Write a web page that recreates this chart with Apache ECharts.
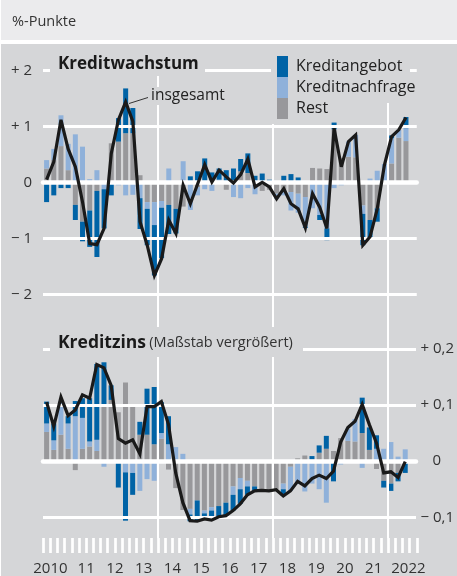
<!DOCTYPE html>
<html><head><meta charset="utf-8">
<script src="https://cdn.jsdelivr.net/npm/echarts@6/dist/echarts.min.js"></script>
<style>html,body{margin:0;padding:0;background:#fff}#c{width:457px;height:576px}</style>
</head><body><div id="c"></div>
<script>
// ---------- data ----------
const years = ['2010','2011','2012','2013','2014','2015','2016','2017','2018','2019','2020','2021','2022'];
const yearLabels = ['2010','11','12','13','14','15','16','17','18','19','20','21','2022'];
const quarters = [];
years.forEach(y => ['Q1','Q2','Q3','Q4'].forEach(q => quarters.push(y + q)));

// Kreditwachstum (%-Punkte)
const angebotTop = [-0.35,-0.23,-0.10,-0.10,-0.27,-0.35,-0.65,-1.18,-0.70,-0.23,
  0.42,0.80,0.45,-0.55,-0.65,-0.90,-0.90,-0.52,-0.44,0,
  0.11,0.20,0.43,0.18,0.20,0.22,0.25,0.22,0.35,0.12,
  0.16,0.05,0,0.12,0.15,0.09,-0.02,0,-0.09,-0.21,
  0.12,0,0,0,-0.56,-0.35,-0.24,0,0.05,0,0.20];
const nachfrageTop = [0.15,0.20,0.55,0.47,0.86,0.64,0.06,0.22,-0.12,0,
  -0.05,-0.23,-0.22,-0.28,-0.12,-0.41,-0.12,0.25,0,0.38,
  -0.49,-0.15,-0.12,-0.15,0.05,0,-0.26,-0.28,-0.10,-0.21,
  0,0,-0.09,-0.08,-0.33,-0.34,-0.53,-0.46,-0.58,-0.82,
  -0.10,-0.05,0.27,0.40,-0.15,0.07,0.21,0.31,0.45,0.14,0.23];
const restTop = [0.25,0.40,0.65,0.22,-0.40,-0.70,-0.50,-0.15,0,0.70,
  0.73,0.88,0.88,0.13,-0.35,-0.35,-0.33,-0.40,-0.47,-0.43,
  0,-0.08,0,0,-0.03,-0.13,0,0.20,0.17,0,
  -0.15,-0.13,-0.20,-0.15,-0.17,-0.20,-0.26,0.26,0.25,0.24,
  0.95,0.44,0.46,0.45,-0.41,-0.67,-0.46,0.02,0.34,0.80,0.74];
const totalTop = [0.05,0.37,1.12,0.60,0.28,-0.35,-1.09,-1.11,-0.82,0.52,
  1.12,1.44,1.09,-0.70,-1.12,-1.66,-1.36,-0.67,-0.91,-0.05,
  -0.38,-0.03,0.32,0.01,0.22,0.10,-0.01,0.14,0.42,-0.08,
  0.00,-0.08,-0.29,-0.11,-0.38,-0.47,-0.81,-0.20,-0.44,-0.82,
  0.97,0.28,0.73,0.85,-1.12,-0.97,-0.47,0.31,0.82,0.94,1.16];

// Kreditzins (%-Punkte, Maßstab vergrößert)
const angebotBot = [0.039,0.030,0,0.013,0.027,0.035,0.077,0.135,0.076,0.026,
  -0.047,-0.086,-0.039,0.023,0.082,0.102,0.055,0.050,0,0,
  -0.012,-0.038,-0.010,-0.013,-0.018,-0.023,-0.028,-0.026,-0.015,-0.010,
  0,0,0,-0.012,0,0,0,0.006,0.013,0.023,
  -0.036,0,0,0,0.063,0.040,0.024,-0.012,-0.013,-0.015,-0.021];
const nachfrageBot = [0.015,0.017,0.060,0.045,0.080,0.055,0.009,0.020,-0.010,0,
  0,-0.020,-0.021,-0.053,-0.032,-0.035,0.010,0.030,0.025,0.013,
  -0.010,0,-0.005,-0.006,0,0,-0.015,-0.020,-0.010,0.002,
  0,0,0,-0.010,-0.043,-0.041,-0.054,-0.040,-0.050,-0.074,
  0,-0.006,0.022,0.040,-0.012,0,0.022,0.022,0.034,0.008,0.021];
const restBot = [0.052,0.020,0.047,0.022,-0.016,0.022,0.026,0.018,0.100,0.109,
  0.087,0.140,0.100,0.047,0.047,0.030,0.040,-0.015,-0.048,-0.087,
  -0.085,-0.070,-0.088,-0.082,-0.080,-0.074,-0.045,-0.030,-0.035,-0.045,
  -0.052,-0.053,-0.050,-0.040,-0.010,0.005,0.010,0.003,0.015,0.022,
  0.018,0.041,0.036,0.035,0.050,0.020,-0.014,-0.035,-0.040,-0.021,0];
const totalBot = [0.105,0.062,0.114,0.081,0.091,0.118,0.112,0.172,0.166,0.135,
  0.040,0.032,0.038,0.013,0.097,0.097,0.106,0.065,-0.021,-0.074,
  -0.106,-0.107,-0.103,-0.105,-0.099,-0.097,-0.088,-0.076,-0.060,-0.053,
  -0.052,-0.053,-0.051,-0.062,-0.053,-0.036,-0.044,-0.031,-0.025,-0.031,
  -0.018,0.034,0.060,0.071,0.101,0.065,0.032,-0.021,-0.019,-0.029,-0.001];

// ---------- styling ----------
const PANEL = '#d5d6d8';
const DARK = '#0063a6', LIGHT = '#8fb1da', GRAY = '#98989b', LINE = '#1a1a1a';
const FONT = '"Open Sans", "Noto Sans", sans-serif';
const L = 43, W = 373.75;

function fmtTop(v) { return v > 0 ? '+ ' + v : (v < 0 ? '\u2212 ' + Math.abs(v) : '0'); }
function fmtBot(v) {
  const r = Math.round(v * 10) / 10;
  if (r === 0) return '{z|0}';
  const s = Math.abs(r).toFixed(1).replace('.', ',');
  return (r > 0 ? '+ ' : '\u2212 ') + s;
}

function bars(name, data, color, xi, stack) {
  return { type: 'bar', name, data, xAxisIndex: xi, yAxisIndex: xi, stack, barWidth: 5,
    itemStyle: { color }, z: 2, clip: false, emphasis: { disabled: true } };
}
function line(data, xi) {
  return { type: 'line', name: 'insgesamt', data, xAxisIndex: xi, yAxisIndex: xi, symbol: 'none',
    lineStyle: { color: LINE, width: 3.2, join: 'miter', miterLimit: 4 }, z: 5, clip: false };
}

const chart = echarts.init(document.getElementById('c'), null, { renderer: 'canvas' });
const option = {
  animation: false,
  backgroundColor: '#ffffff',
  textStyle: { fontFamily: FONT },
  graphic: [
    { type: 'rect', shape: { x: 1, y: 0, width: 456, height: 40 }, style: { fill: '#ebebed' }, z: -10, silent: true },
    { type: 'rect', shape: { x: 1, y: 44, width: 456, height: 532 }, style: { fill: PANEL }, z: -10, silent: true },
    { type: 'text', x: 12, y: 22, style: { text: '%-Punkte', font: '14.5px ' + FONT, fill: '#333', verticalAlign: 'middle' }, z: 10, silent: true },
    // masks breaking grid lines behind texts
    { type: 'rect', shape: { x: 50, y: 50, width: 155, height: 26 }, style: { fill: PANEL }, z: 10, silent: true },
    { type: 'rect', shape: { x: 148, y: 87, width: 80, height: 18 }, style: { fill: PANEL }, z: 10, silent: true },
    { type: 'rect', shape: { x: 271, y: 50, width: 139, height: 53 }, style: { fill: PANEL }, z: 10, silent: true },
    { type: 'rect', shape: { x: 271, y: 103, width: 19, height: 21 }, style: { fill: PANEL }, z: 10, silent: true },
    { type: 'rect', shape: { x: 50, y: 327, width: 253, height: 30 }, style: { fill: PANEL }, z: 10, silent: true },
    // titles
    { type: 'text', x: 58, y: 64, style: { text: 'Kreditwachstum', font: 'bold 17px ' + FONT, fill: '#1a1a1a', verticalAlign: 'middle' }, z: 11, silent: true },
    { type: 'text', x: 151, y: 96, style: { text: 'insgesamt', font: '15.5px ' + FONT, fill: '#222', verticalAlign: 'middle' }, z: 11, silent: true },
    { type: 'line', shape: { x1: 129, y1: 103.5, x2: 148, y2: 97.5 }, style: { stroke: '#333', lineWidth: 1 }, z: 11, silent: true },
    { type: 'text', x: 58, y: 343, style: {
        text: '{b|Kreditzins} {n|(Maßstab vergrößert)}', verticalAlign: 'middle',
        rich: { b: { font: 'bold 17.5px ' + FONT, fill: '#1a1a1a' }, n: { font: '14.5px ' + FONT, fill: '#333' } } },
      z: 11, silent: true }
  ],
  legend: {
    data: ['Kreditangebot', 'Kreditnachfrage', 'Rest'], orient: 'vertical', left: 277, top: 56,
    itemWidth: 11, itemHeight: 21, itemGap: 0, icon: 'rect', selectedMode: false, padding: 0,
    textStyle: { fontSize: 16, color: '#222', fontFamily: FONT, padding: [0, 0, 0, 3] }, z: 12
  },
  grid: [
    { left: L, top: 70.5, width: W, height: 467.5 },
    { left: L, top: 70.5, width: W, height: 224 },
    { left: L, top: 348.8, width: W, height: 168.5 },
    { left: L, top: 538, width: W, height: 15 }
  ],
  xAxis: [
    { type: 'value', gridIndex: 0, min: 0, max: 52, interval: 16, axisLine: { show: false, onZero: false }, axisTick: { show: false },
      axisLabel: { show: false }, splitLine: { show: true, showMinLine: false, showMaxLine: false, lineStyle: { color: '#fff', width: 2 } }, z: 3 },
    { type: 'category', gridIndex: 1, data: quarters, axisLine: { show: true, onZero: true, lineStyle: { color: '#fff', width: 4.5 } },
      axisTick: { show: false }, axisLabel: { show: false }, splitLine: { show: false }, z: 3 },
    { type: 'category', gridIndex: 2, data: quarters, axisLine: { show: true, onZero: true, lineStyle: { color: '#fff', width: 4.5 } },
      axisTick: { show: false }, axisLabel: { show: false }, splitLine: { show: false }, z: 3 },
    { type: 'value', gridIndex: 3, min: 0, max: 52, interval: 1, position: 'top', axisLine: { show: false, onZero: false },
      axisTick: { show: true, inside: true, length: 15, lineStyle: { color: '#fff', width: 2.7 } },
      axisLabel: { show: false }, splitLine: { show: false }, z: 3 },
    { type: 'category', gridIndex: 3, data: yearLabels, position: 'bottom', axisLine: { show: false, onZero: false }, axisTick: { show: false },
      axisLabel: { interval: 0, margin: 8, fontSize: 15, color: '#333', fontFamily: FONT,
        formatter: (v, i) => i === 0 ? '{a|' + v + '}' : (i === yearLabels.length - 1 ? '{b|' + v + '}' : v),
        rich: { a: { padding: [0, 14, 0, 0], fontSize: 15, color: '#333', fontFamily: FONT },
                b: { padding: [0, 0, 0, 12], fontSize: 15, color: '#333', fontFamily: FONT } } },
      splitLine: { show: false } }
  ],
  yAxis: [
    { type: 'value', gridIndex: 0, show: false, min: 0, max: 1 },
    { type: 'value', gridIndex: 1, min: -2, max: 2, interval: 1, axisLine: { show: false }, axisTick: { show: false },
      splitLine: { show: true, lineStyle: { color: '#fff', width: 3 } },
      axisLabel: { formatter: fmtTop, fontSize: 15, color: '#333', margin: 11, fontFamily: FONT }, z: 3 },
    { type: 'value', gridIndex: 2, min: -0.1, max: 0.2, interval: 0.1, position: 'right', axisLine: { show: false }, axisTick: { show: false },
      splitLine: { show: true, lineStyle: { color: '#fff', width: 3 } },
      axisLabel: { formatter: fmtBot, fontSize: 15, color: '#333', margin: 4.5, align: 'left', fontFamily: FONT,
        rich: { z: { padding: [0, 0, 0, 12], fontSize: 15, color: '#333', fontFamily: FONT } } }, z: 3 },
    { type: 'value', gridIndex: 3, show: false, min: 0, max: 1 }
  ],
  series: [
    bars('Rest', restTop, GRAY, 1, 'top'),
    bars('Kreditnachfrage', nachfrageTop, LIGHT, 1, 'top'),
    bars('Kreditangebot', angebotTop, DARK, 1, 'top'),
    line(totalTop, 1),
    bars('Rest', restBot, GRAY, 2, 'bot'),
    bars('Kreditnachfrage', nachfrageBot, LIGHT, 2, 'bot'),
    bars('Kreditangebot', angebotBot, DARK, 2, 'bot'),
    line(totalBot, 2)
  ]
};
chart.setOption(option);
</script>
</body></html>
